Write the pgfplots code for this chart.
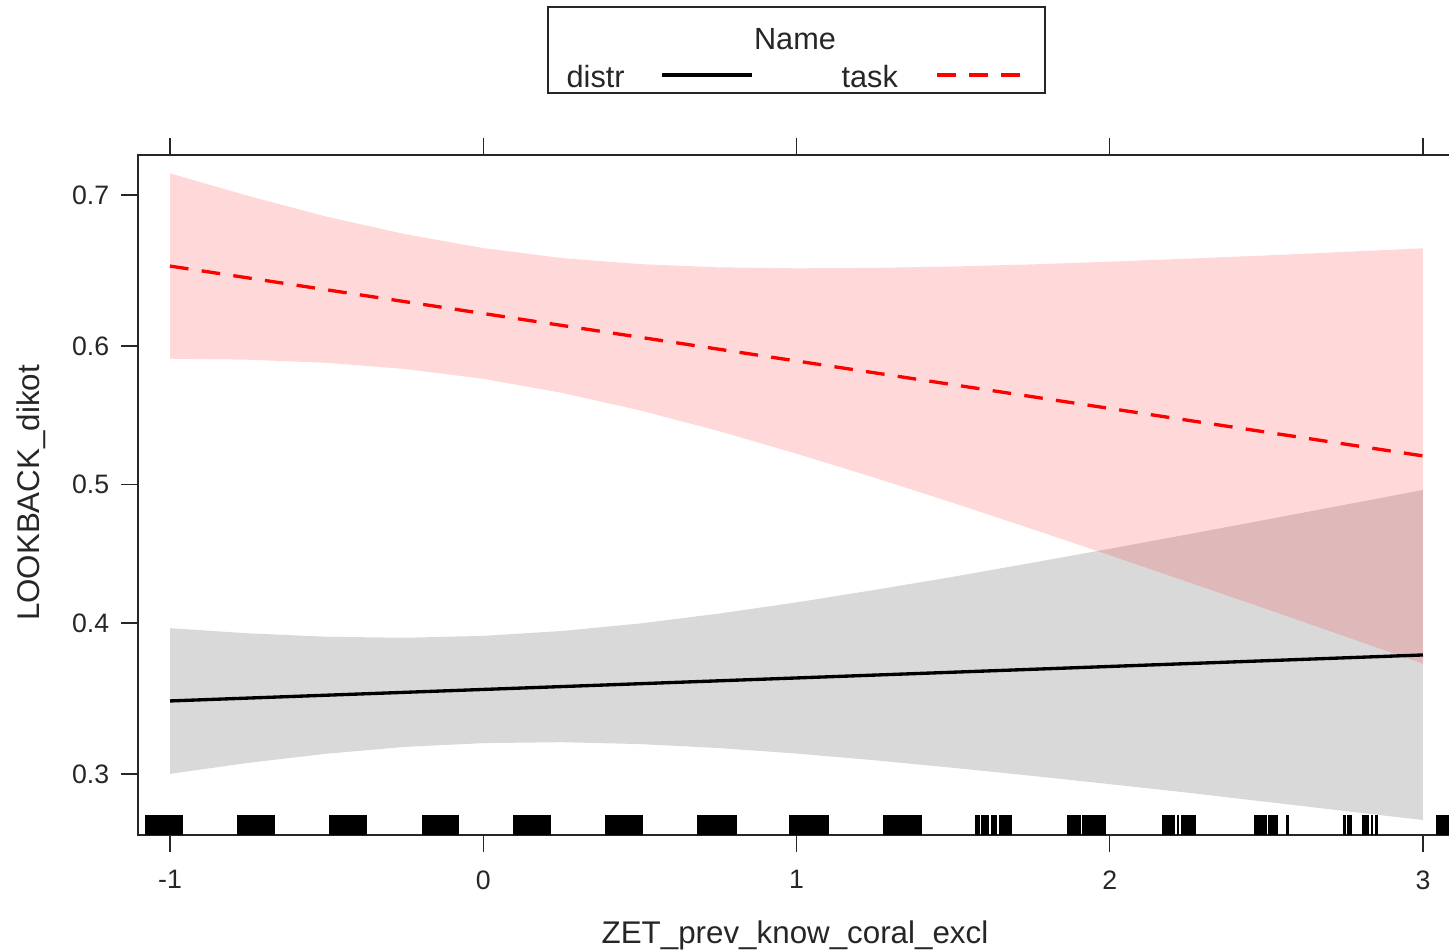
\documentclass[border=0pt]{standalone}
\usepackage{pgfplots}
\pgfplotsset{compat=1.18}
\usepackage{pgfplotstable}
\usepgfplotslibrary{fillbetween}
\usepackage{fontspec}
\setmainfont{Liberation Sans}

% confidence band of "distr" (probabilities)
\pgfplotstableread{
x lo hi
-1.00 0.3001 0.3964
-0.75 0.3069 0.3928
-0.50 0.3126 0.3904
-0.25 0.3169 0.3897
0.00 0.3193 0.3910
0.25 0.3199 0.3944
0.50 0.3187 0.3997
0.75 0.3162 0.4066
1.00 0.3127 0.4146
1.25 0.3085 0.4235
1.50 0.3038 0.4329
1.75 0.2989 0.4429
2.00 0.2938 0.4531
2.25 0.2886 0.4636
2.50 0.2832 0.4743
2.75 0.2778 0.4851
3.00 0.2725 0.4960
}\distrband

% confidence band of "task" (probabilities)
\pgfplotstableread{
x lo hi
-1.00 0.5910 0.7131
-0.75 0.5903 0.6994
-0.50 0.5881 0.6865
-0.25 0.5837 0.6754
0.00 0.5767 0.6664
0.25 0.5667 0.6599
0.50 0.5540 0.6559
0.75 0.5391 0.6538
1.00 0.5225 0.6531
1.25 0.5049 0.6534
1.50 0.4865 0.6543
1.75 0.4676 0.6557
2.00 0.4484 0.6575
2.25 0.4291 0.6595
2.50 0.4099 0.6616
2.75 0.3907 0.6639
3.00 0.3718 0.6663
}\taskband

% fitted lines (probabilities)
\pgfplotstableread{
x p
-1 0.3467
3 0.3778
}\distrfit
\pgfplotstableread{
x p
-1 0.6546
3 0.5209
}\taskfit

\newcommand\rug[2]{\addplot[fill=black, draw=none, forget plot] coordinates {(#1,-1.2) (#1,-0.9672) (#2,-0.9672) (#2,-1.2)};}
\newcommand\lgt[1]{ln(\thisrow{#1}/(1-\thisrow{#1}))}

\begin{document}
\begin{tikzpicture}
\begin{axis}[
  at={(41.4pt,34.8pt)}, anchor=south west,
  width=395.1pt, height=204pt, scale only axis,
  xmin=-1.1022, xmax=3.1022, ymin=-1.0258, ymax=0.9643,
  axis line style={line width=0.45pt, black!85},
  tick align=outside, major tick length=5.1pt,
  tick style={line width=0.45pt, black!85},
  xtick={-1,0,1,2,3}, xticklabels={-1,0,1,2,3},
  xtick pos=both,
  ytick={-0.847298,-0.405465,0,0.405465,0.847298},
  yticklabels={0.3,0.4,0.5,0.6,0.7},
  ytick pos=left,
  ticklabel style={font=\fontsize{8}{9.6}\selectfont, text=black!85},
  xticklabel style={yshift=-2pt},
]
% distr band and line
\addplot[draw=none, name path=dU, forget plot] table[x=x, y expr={\lgt{hi}}]{\distrband};
\addplot[draw=none, name path=dL, forget plot] table[x=x, y expr={\lgt{lo}}]{\distrband};
\addplot[fill=black, fill opacity=0.15, draw=none, forget plot] fill between[of=dU and dL];
\addplot[black, line width=1pt, forget plot] table[x=x, y expr={\lgt{p}}]{\distrfit};
% task band and line
\addplot[draw=none, name path=tU, forget plot] table[x=x, y expr={\lgt{hi}}]{\taskband};
\addplot[draw=none, name path=tL, forget plot] table[x=x, y expr={\lgt{lo}}]{\taskband};
\addplot[fill=red, fill opacity=0.15, draw=none, forget plot] fill between[of=tU and tL];
\addplot[red, line width=1pt, dash pattern=on 5.6pt off 4pt, forget plot] table[x=x, y expr={\lgt{p}}]{\taskfit};
% rug
\rug{-1.0798}{-0.9585}
\rug{-0.7861}{-0.6648}
\rug{-0.4924}{-0.3711}
\rug{-0.1955}{-0.0774}
\rug{0.0950}{0.2163}
\rug{0.3887}{0.5100}
\rug{0.6824}{0.8100}
\rug{0.9761}{1.1037}
\rug{1.2761}{1.4006}
\rug{1.5698}{1.5858}
\rug{1.5890}{1.6145}
\rug{1.6209}{1.6400}
\rug{1.6464}{1.6879}
\rug{1.8635}{1.9082}
\rug{1.9114}{1.9880}
\rug{2.1668}{2.2083}
\rug{2.2147}{2.2211}
\rug{2.2275}{2.2754}
\rug{2.4605}{2.5020}
\rug{2.5052}{2.5371}
\rug{2.5627}{2.5722}
\rug{2.7446}{2.7542}
\rug{2.7574}{2.7733}
\rug{2.8053}{2.8276}
\rug{2.8340}{2.8404}
\rug{2.8468}{2.8564}
\rug{3.0415}{3.1628}
\end{axis}
% axis titles
\node[font=\fontsize{9.4}{11}\selectfont, text=black!85] at (238.5pt,4.8pt) {ZET\_prev\_know\_coral\_excl};
\node[font=\fontsize{9.4}{11}\selectfont, text=black!85, rotate=90] at (9.3pt,137.4pt) {LOOKBACK\_dikot};
% legend
\draw[line width=0.45pt, black!85] (164.4pt,257.4pt) rectangle (313.5pt,283.2pt);
\node[font=\fontsize{9.2}{11}\selectfont, anchor=base, text=black!85] at (238.5pt,270.3pt) {Name};
\node[font=\fontsize{9.2}{11}\selectfont, anchor=base west, inner sep=0pt, text=black!85] at (169.8pt,258.9pt) {distr};
\draw[black, line width=1pt] (198.6pt,262.8pt) -- (225.6pt,262.8pt);
\node[font=\fontsize{9.2}{11}\selectfont, anchor=base west, inner sep=0pt, text=black!85] at (252.3pt,258.9pt) {task};
\draw[red, line width=1pt, dash pattern=on 5.6pt off 4pt] (281.1pt,262.8pt) -- (306.3pt,262.8pt);
\pgfresetboundingbox
\useasboundingbox (0,0) rectangle (434.7pt,285.3pt);
\end{tikzpicture}
\end{document}
